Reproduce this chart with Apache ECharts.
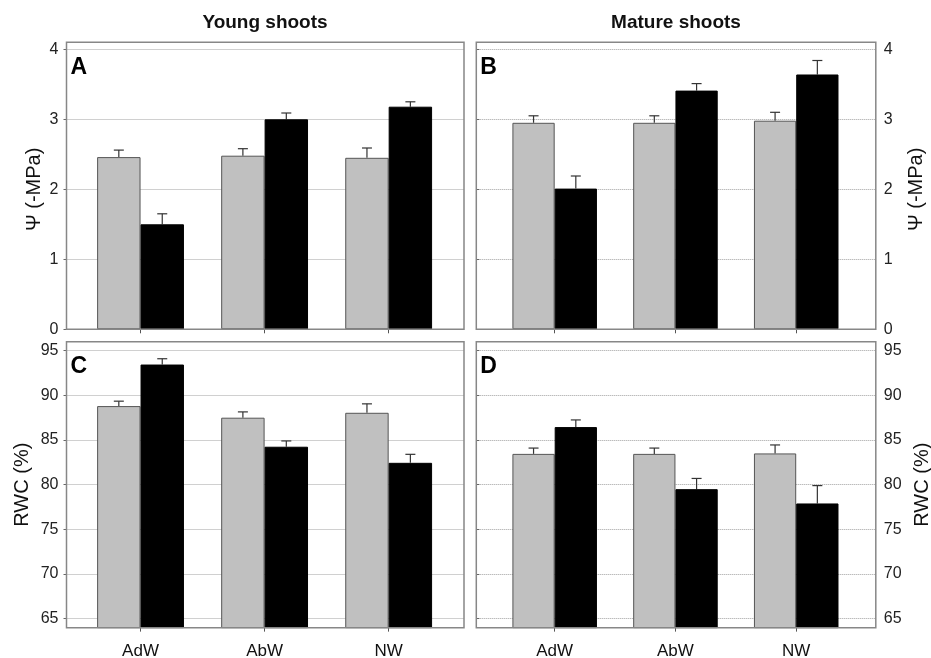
<!DOCTYPE html>
<html>
<head>
<meta charset="utf-8">
<script src="https://cdn.jsdelivr.net/npm/echarts@6/dist/echarts.min.js"></script>
<style>html,body{margin:0;padding:0;background:#fff;}#c{width:931px;height:658px;}</style>
</head>
<body>
<div id="c"></div>
<script>
// ---- data ----
const categories = ['AdW', 'AbW', 'NW'];
const psiYoungGray = [2.46, 2.48, 2.45];
const psiYoungGrayErr = [0.10, 0.10, 0.14];
const psiYoungBlack = [1.50, 3.00, 3.18];
const psiYoungBlackErr = [0.15, 0.09, 0.07];
const psiMatureGray = [2.95, 2.95, 2.98];
const psiMatureGrayErr = [0.10, 0.10, 0.12];
const psiMatureBlack = [2.01, 3.41, 3.64];
const psiMatureBlackErr = [0.18, 0.10, 0.20];
const rwcYoungGray = [88.8, 87.5, 88.05];
const rwcYoungGrayErr = [0.55, 0.65, 1.0];
const rwcYoungBlack = [93.45, 84.25, 82.45];
const rwcYoungBlackErr = [0.65, 0.65, 0.95];
const rwcMatureGray = [83.45, 83.45, 83.5];
const rwcMatureGrayErr = [0.65, 0.65, 0.95];
const rwcMatureBlack = [86.45, 79.5, 77.9];
const rwcMatureBlackErr = [0.8, 1.2, 2.0];
const psiTicks = { min: 0, max: 4, interval: 1 };
const rwcTicks = { min: 65, max: 95, interval: 5 };
const psiRange = [0, 4.1];
const rwcRange = [64, 96];
const columnTitles = ['Young shoots', 'Mature shoots'];
const panelLetters = ['A', 'B', 'C', 'D'];
const psiName = 'Ψ (-MPa)';
const rwcName = 'RWC (%)';

// ---- layout ----
const FONT = 'Liberation Sans, Arial, Helvetica, sans-serif';
const cols = [
  { frameL: 66.5, frameR: 464, dataL: 78.5, dataW: 372.2, side: 'left' },
  { frameL: 476.3, frameR: 875.8, dataL: 494.3, dataW: 362.3, side: 'right' }
];
const rows = [
  { axTop: 49.3, axBot: 329.3, ticks: psiTicks, range: psiRange, name: psiName, labels: false },
  { axTop: 350.7, axBot: 618.7, ticks: rwcTicks, range: rwcRange, name: rwcName, labels: true }
];
const panels = [
  { r: 0, c: 0, g: psiYoungGray, ge: psiYoungGrayErr, b: psiYoungBlack, be: psiYoungBlackErr },
  { r: 0, c: 1, g: psiMatureGray, ge: psiMatureGrayErr, b: psiMatureBlack, be: psiMatureBlackErr },
  { r: 1, c: 0, g: rwcYoungGray, ge: rwcYoungGrayErr, b: rwcYoungBlack, be: rwcYoungBlackErr },
  { r: 1, c: 1, g: rwcMatureGray, ge: rwcMatureGrayErr, b: rwcMatureBlack, be: rwcMatureBlackErr }
];

function errRender(sign) {
  return function (params, api) {
    const i = api.value(0), v = api.value(1), e = api.value(2);
    const bw = api.size([1, 0])[0];
    const p0 = api.coord([i, v]);
    const p1 = api.coord([i, v + e]);
    const x = p0[0] + sign * bw * 0.175;
    const st = { stroke: '#333', lineWidth: 1.2 };
    return {
      type: 'group',
      children: [
        { type: 'line', shape: { x1: x, y1: p0[1], x2: x, y2: p1[1] }, style: st },
        { type: 'line', shape: { x1: x - 5, y1: p1[1], x2: x + 5, y2: p1[1] }, style: st }
      ]
    };
  };
}

const grid = [], xAxis = [], yAxis = [], series = [], graphic = [];
panels.forEach(function (p, k) {
  const row = rows[p.r], col = cols[p.c];
  const ppu = (row.axBot - row.axTop) / (row.ticks.max - row.ticks.min);
  const fTop = row.axTop - (row.range[1] - row.ticks.max) * ppu;
  const fBot = row.axBot + (row.ticks.min - row.range[0]) * ppu;
  const fW = col.frameR - col.frameL;
  const base = grid.length;
  // frame grid
  grid.push({ left: col.frameL, top: fTop, width: fW, height: fBot - fTop, show: true,
    outerBoundsMode: 'none', containLabel: false,
    borderColor: '#878787', borderWidth: 1.5, backgroundColor: 'transparent', z: 3 });
  xAxis.push({ gridIndex: base, type: 'value', show: false });
  yAxis.push({ gridIndex: base, type: 'value', show: false });
  // axis grid
  grid.push({ left: col.frameL, top: row.axTop, width: fW, height: row.axBot - row.axTop, show: false,
    outerBoundsMode: 'none', containLabel: false });
  xAxis.push({ gridIndex: base + 1, type: 'value', show: false });
  yAxis.push({
    gridIndex: base + 1, type: 'value', position: col.side,
    min: row.ticks.min, max: row.ticks.max, interval: row.ticks.interval,
    name: row.name, nameLocation: 'middle', nameRotate: 90,
    nameGap: col.side === 'left' ? (p.r === 0 ? 22 : 34) : (p.r === 0 ? 31 : 37),
    nameTextStyle: { fontFamily: FONT, fontSize: 20, color: '#111' },
    axisLine: { show: false },
    axisTick: { show: true, inside: false, length: 3, lineStyle: { color: '#666', width: 1 } },
    axisLabel: { fontFamily: FONT, fontSize: 16, color: '#222', margin: 8 },
    splitLine: { show: true, lineStyle: { type: 'dotted', color: '#a0a0a0', width: 1 } }
  });
  // data grid
  grid.push({ left: col.dataL, top: fTop, width: col.dataW, height: fBot - fTop, show: false,
    outerBoundsMode: 'none', containLabel: false });
  xAxis.push({
    gridIndex: base + 2, type: 'category', data: categories, boundaryGap: true,
    axisLine: { show: false },
    axisTick: { show: true, alignWithLabel: true, inside: false, length: 4, lineStyle: { color: '#555', width: 1 } },
    axisLabel: { show: row.labels, fontFamily: FONT, fontSize: 17, color: '#111', margin: 15 }
  });
  yAxis.push({ gridIndex: base + 2, type: 'value', show: false, min: row.range[0], max: row.range[1],
    splitLine: { show: false } });
  series.push({
    type: 'bar', xAxisIndex: base + 2, yAxisIndex: base + 2, data: p.g,
    barWidth: '35%', barGap: '0%', clip: true,
    itemStyle: { color: '#c0c0c0', borderColor: '#555', borderWidth: 1 }, z: 2
  });
  series.push({
    type: 'bar', xAxisIndex: base + 2, yAxisIndex: base + 2, data: p.b,
    barWidth: '35%', barGap: '0%', clip: true,
    itemStyle: { color: '#000', borderColor: '#000', borderWidth: 1 }, z: 2
  });
  series.push({
    type: 'custom', xAxisIndex: base + 2, yAxisIndex: base + 2, z: 1,
    renderItem: errRender(-1), encode: { x: 0, y: 1 },
    data: p.g.map(function (v, i) { return [i, v, p.ge[i]]; })
  });
  series.push({
    type: 'custom', xAxisIndex: base + 2, yAxisIndex: base + 2, z: 1,
    renderItem: errRender(1), encode: { x: 0, y: 1 },
    data: p.b.map(function (v, i) { return [i, v, p.be[i]]; })
  });
  graphic.push({
    type: 'text', x: col.frameL + 4, y: fTop + 25,
    style: { text: panelLetters[k], font: 'bold 23px ' + FONT, fill: '#000',
      textAlign: 'left', textVerticalAlign: 'middle' }
  });
});
graphic.push({ type: 'text', x: 265, y: 23,
  style: { text: columnTitles[0], font: 'bold 19px ' + FONT, fill: '#111', textAlign: 'center', textVerticalAlign: 'middle' } });
graphic.push({ type: 'text', x: 676, y: 23,
  style: { text: columnTitles[1], font: 'bold 19px ' + FONT, fill: '#111', textAlign: 'center', textVerticalAlign: 'middle' } });

const chart = echarts.init(document.getElementById('c'), null, { renderer: 'canvas' });
chart.setOption({
  animation: false,
  backgroundColor: '#fff',
  grid: grid, xAxis: xAxis, yAxis: yAxis, series: series, graphic: graphic
});
</script>
</body>
</html>
